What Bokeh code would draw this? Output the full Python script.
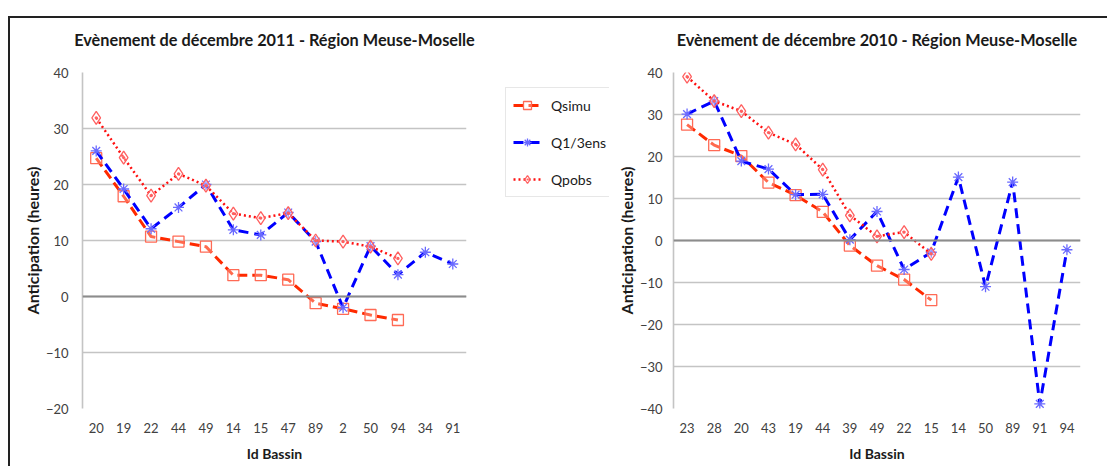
from bokeh.plotting import figure
from bokeh.models import Range1d, Span, Legend, LegendItem, Title, FixedTicker
from bokeh.layouts import row
from bokeh.embed import file_html
from bokeh.resources import INLINE

# ---- data: left chart (décembre 2011)
cats_2011 = ["20", "19", "22", "44", "49", "14", "15", "47", "89", "2", "50", "94", "34", "91"]
qsimu_2011 = [24.7, 17.9, 10.7, 9.8, 8.9, 3.8, 3.8, 3.0, -1.2, -2.2, -3.3, -4.2]
q13ens_2011 = [26.0, 19.2, 12.1, 15.9, 20.0, 11.9, 11.0, 15.0, 9.8, -2.0, 9.0, 3.9, 7.9, 5.8]
qpobs_2011 = [31.9, 24.8, 18.0, 21.9, 19.8, 14.8, 14.0, 14.9, 10.0, 9.8, 8.9, 6.8]

# ---- data: right chart (décembre 2010)
cats_2010 = ["23", "28", "20", "43", "19", "44", "39", "49", "22", "15", "14", "50", "89", "91", "94"]
qsimu_2010 = [27.6, 22.7, 20.1, 13.8, 10.8, 6.8, -1.2, -6.0, -9.3, -14.2]
q13ens_2010 = [30.1, 33.2, 18.9, 17.0, 10.9, 11.0, 0.2, 6.9, -6.9, -2.8, 15.1, -11.0, 13.9, -38.9, -2.2]
qpobs_2010 = [39.0, 33.2, 30.8, 25.7, 22.9, 16.9, 6.0, 1.0, 2.0, -3.2]

title_2011 = "Evènement de décembre 2011 - Région Meuse-Moselle"
title_2010 = "Evènement de décembre 2010 - Région Meuse-Moselle"
series_names = ["Qsimu", "Q1/3ens", "Qpobs"]

FONT = "Lato"
C_SIMU_LINE = "#ff2a00"
C_SIMU_MARK = "#ff6a55"
C_ENS_LINE = "#0000ff"
C_ENS_MARK = "#6a6aff"
C_OBS_LINE = "#ff1010"
C_OBS_MARK = "#ff6060"

STYLE_SIMU_LINE = dict(line_color=C_SIMU_LINE, line_width=3, line_dash="10 5")
STYLE_SIMU_MARK = dict(marker="square", size=11, fill_color="white", fill_alpha=0.3,
                       line_color=C_SIMU_MARK, line_width=1.3)
STYLE_ENS_LINE = dict(line_color=C_ENS_LINE, line_width=3, line_dash="10 6")
STYLE_ENS_MARK = dict(marker="asterisk", size=11, line_color=C_ENS_MARK, line_width=1.3)
STYLE_OBS_LINE = dict(line_color=C_OBS_LINE, line_width=2.5, line_dash="2 3")
STYLE_OBS_MARK = dict(marker="diamond_dot", size=13, fill_color="white", fill_alpha=0.3,
                      line_color=C_OBS_MARK, line_width=1.3)

H = 466
TOP = 72
BOTTOM = 58


def make_fig(cats, ymin, ymax, title, width, bl, br, y_standoff):
    p = figure(x_range=cats, y_range=Range1d(ymin, ymax), width=width, height=H,
               output_backend="svg", toolbar_location=None,
               min_border_left=bl, min_border_right=br, min_border_top=TOP, min_border_bottom=BOTTOM)
    p.outline_line_color = None
    p.background_fill_color = "white"
    p.border_fill_color = None
    t = Title(text=title, align="center", vertical_align="top", text_font=FONT,
              text_font_size="16.3px", text_font_style="bold", text_color="#1a1a1a", standoff=43)
    p.add_layout(t, "above")
    p.xgrid.grid_line_color = None
    p.ygrid.grid_line_color = "#c4c4c4"
    p.ygrid.grid_line_width = 1.6
    p.yaxis.ticker = FixedTicker(ticks=list(range(ymin, ymax + 1, 10)))
    for ax in (p.xaxis, p.yaxis):
        ax.major_tick_line_color = None
        ax.minor_tick_line_color = None
        ax.major_label_text_font = FONT
        ax.major_label_text_font_size = "13px"
        ax.major_label_text_color = "#404040"
        ax.axis_label_text_font = FONT
        ax.axis_label_text_font_style = "bold"
        ax.axis_label_text_color = "#1a1a1a"
    p.xaxis.axis_label_text_font_size = "14px"
    p.yaxis.axis_label_text_font_size = "16px"
    p.xaxis.axis_line_color = None
    p.yaxis.axis_line_color = "#c4c4c4"
    p.yaxis.axis_line_width = 1.6
    p.xaxis.major_label_standoff = 8
    p.yaxis.major_label_standoff = y_standoff
    p.xaxis.axis_label = "Id Bassin"
    p.yaxis.axis_label = "Anticipation (heures)"
    p.xaxis.axis_label_standoff = 9
    p.yaxis.axis_label_standoff = 1
    p.add_layout(Span(location=0, dimension="width", line_color="#8c8c8c", line_width=2.2))
    return p


def draw_series(p, cats, simu, ens, obs):
    return [
        [p.line(cats[:len(simu)], simu, **STYLE_SIMU_LINE),
         p.scatter(cats[:len(simu)], simu, **STYLE_SIMU_MARK)],
        [p.line(cats[:len(ens)], ens, **STYLE_ENS_LINE),
         p.scatter(cats[:len(ens)], ens, **STYLE_ENS_MARK)],
        [p.line(cats[:len(obs)], obs, **STYLE_OBS_LINE),
         p.scatter(cats[:len(obs)], obs, **STYLE_OBS_MARK)],
    ]


p1 = make_fig(cats_2011, -20, 40, title_2011, 480, 82, 14, 8)
draw_series(p1, cats_2011, qsimu_2011, q13ens_2011, qpobs_2011)

# legend panel: same series, plotted outside its visible range, so only the legend shows
pl = figure(width=129, height=H, x_range=cats_2011, y_range=Range1d(1000, 1001),
            output_backend="svg", toolbar_location=None,
            min_border_left=0, min_border_right=0, min_border_top=TOP, min_border_bottom=BOTTOM)
pl.axis.visible = False
pl.grid.visible = False
pl.outline_line_color = None
pl.border_fill_color = None
pl.background_fill_color = None
rl = draw_series(pl, cats_2011, qsimu_2011, q13ens_2011, qpobs_2011)
legend = Legend(items=[LegendItem(label=n, renderers=r) for n, r in zip(series_names, rl)],
                location=(25, 211), orientation="vertical",
                label_text_font=FONT, label_text_font_size="14px", label_text_color="#1a1a1a",
                border_line_color="#d0d0d0", border_line_width=1.2,
                background_fill_color="white", background_fill_alpha=1.0,
                glyph_width=28, glyph_height=20, label_height=20, spacing=17,
                padding=7, margin=0, label_standoff=10)
pl.add_layout(legend, "center")

p2 = make_fig(cats_2010, -40, 40, title_2010, 498, 64, 27, 5)
draw_series(p2, cats_2010, qsimu_2010, q13ens_2010, qpobs_2010)

# page frame lines (top and left) drawn as the row's background, seen through transparent borders
layout = row(p1, pl, p2, styles={
    "background-image": "linear-gradient(#222222, #222222), linear-gradient(#222222, #222222)",
    "background-size": "100% 2px, 2px 100%",
    "background-position": "8px 16px, 8px 16px",
    "background-repeat": "no-repeat",
})

open("out.html", "w").write(file_html(layout, INLINE))
